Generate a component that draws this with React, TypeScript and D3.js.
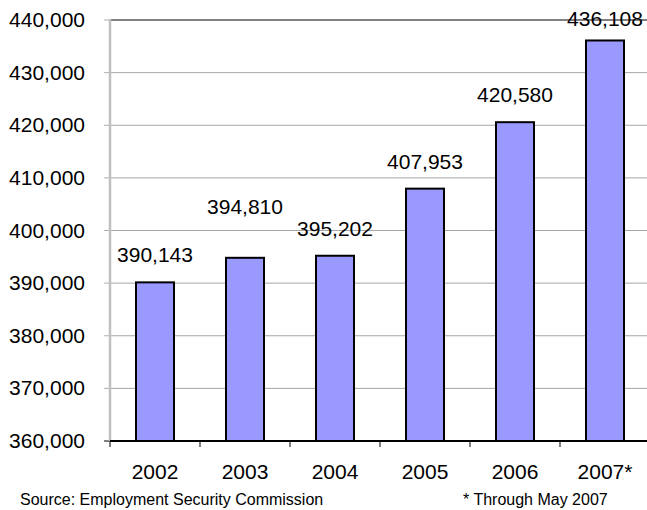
import React from "react";
import * as d3 from "d3";

const categories = ["2002", "2003", "2004", "2005", "2006", "2007*"];
const values = [390143, 394810, 395202, 407953, 420580, 436108];
const yTicks = [360000, 370000, 380000, 390000, 400000, 410000, 420000, 430000, 440000];
const sourceNote = "Source: Employment Security Commission";
const footNote = "* Through May 2007";

const W = 647;
const H = 510;
const FONT = "'Liberation Sans', Arial, sans-serif";

export default function App() {
  const left = 110;
  const top = 20;
  const bottom = 441;
  const step = 90;
  const x = d3
    .scaleBand<string>()
    .domain(categories)
    .range([left, left + step * categories.length])
    .padding(0);
  const y = d3.scaleLinear().domain([360000, 440000]).range([bottom, top]);
  const barW = 38;
  const fmt = d3.format(",");
  // label lift above the bar top (baseline), as placed in the original
  const lift = [20, 44, 20, 20, 20, 20];

  return (
    <svg
      width={W}
      height={H}
      style={{ position: "absolute", left: 0, top: 0, background: "#fff" }}
      fontFamily={FONT}
    >
      {yTicks.map((t) => (
        <line
          key={"g" + t}
          x1={left}
          x2={W}
          y1={y(t)}
          y2={y(t)}
          stroke={t === 440000 ? "#808080" : "#a6a6a6"}
          strokeWidth={t === 440000 ? 2 : 1}
        />
      ))}
      {yTicks.map((t) => (
        <line
          key={"yt" + t}
          x1={104}
          x2={left}
          y1={y(t)}
          y2={y(t)}
          stroke={t === 360000 ? "#000" : "#b0b0b0"}
          strokeWidth={1}
        />
      ))}
      <line x1={left} x2={left} y1={top - 1} y2={bottom} stroke="#c0c0c0" strokeWidth={2.5} />
      {yTicks.map((t) => (
        <text
          key={"yl" + t}
          x={85}
          y={y(t) + 7}
          textAnchor="end"
          fontSize={21}
          fill="#000"
        >
          {fmt(t)}
        </text>
      ))}
      {categories.map((c, i) => {
        const cx = (x(c) as number) + x.bandwidth() / 2;
        return (
          <rect
            key={"b" + c}
            x={cx - barW / 2}
            y={y(values[i])}
            width={barW}
            height={bottom - y(values[i])}
            fill="#9999FF"
            stroke="#000"
            strokeWidth={2}
          />
        );
      })}
      <line x1={left} x2={W} y1={bottom} y2={bottom} stroke="#000" strokeWidth={2} />
      {categories.map((c) => (
        <line
          key={"xt" + c}
          x1={x(c) as number}
          x2={x(c) as number}
          y1={bottom}
          y2={bottom + 6}
          stroke="#000"
          strokeWidth={1}
        />
      ))}
      {categories.map((c) => (
        <text
          key={"xl" + c}
          x={(x(c) as number) + x.bandwidth() / 2}
          y={479}
          textAnchor="middle"
          fontSize={21}
          fill="#000"
        >
          {c}
        </text>
      ))}
      {categories.map((c, i) => (
        <text
          key={"vl" + c}
          x={(x(c) as number) + x.bandwidth() / 2}
          y={Math.max(y(values[i]) - lift[i], 26)}
          textAnchor="middle"
          fontSize={21}
          fill="#000"
        >
          {fmt(values[i])}
        </text>
      ))}
      <text x={20} y={505} fontSize={16} fill="#000">
        {sourceNote}
      </text>
      <text x={463} y={505} fontSize={16} fill="#000">
        {footNote}
      </text>
    </svg>
  );
}
